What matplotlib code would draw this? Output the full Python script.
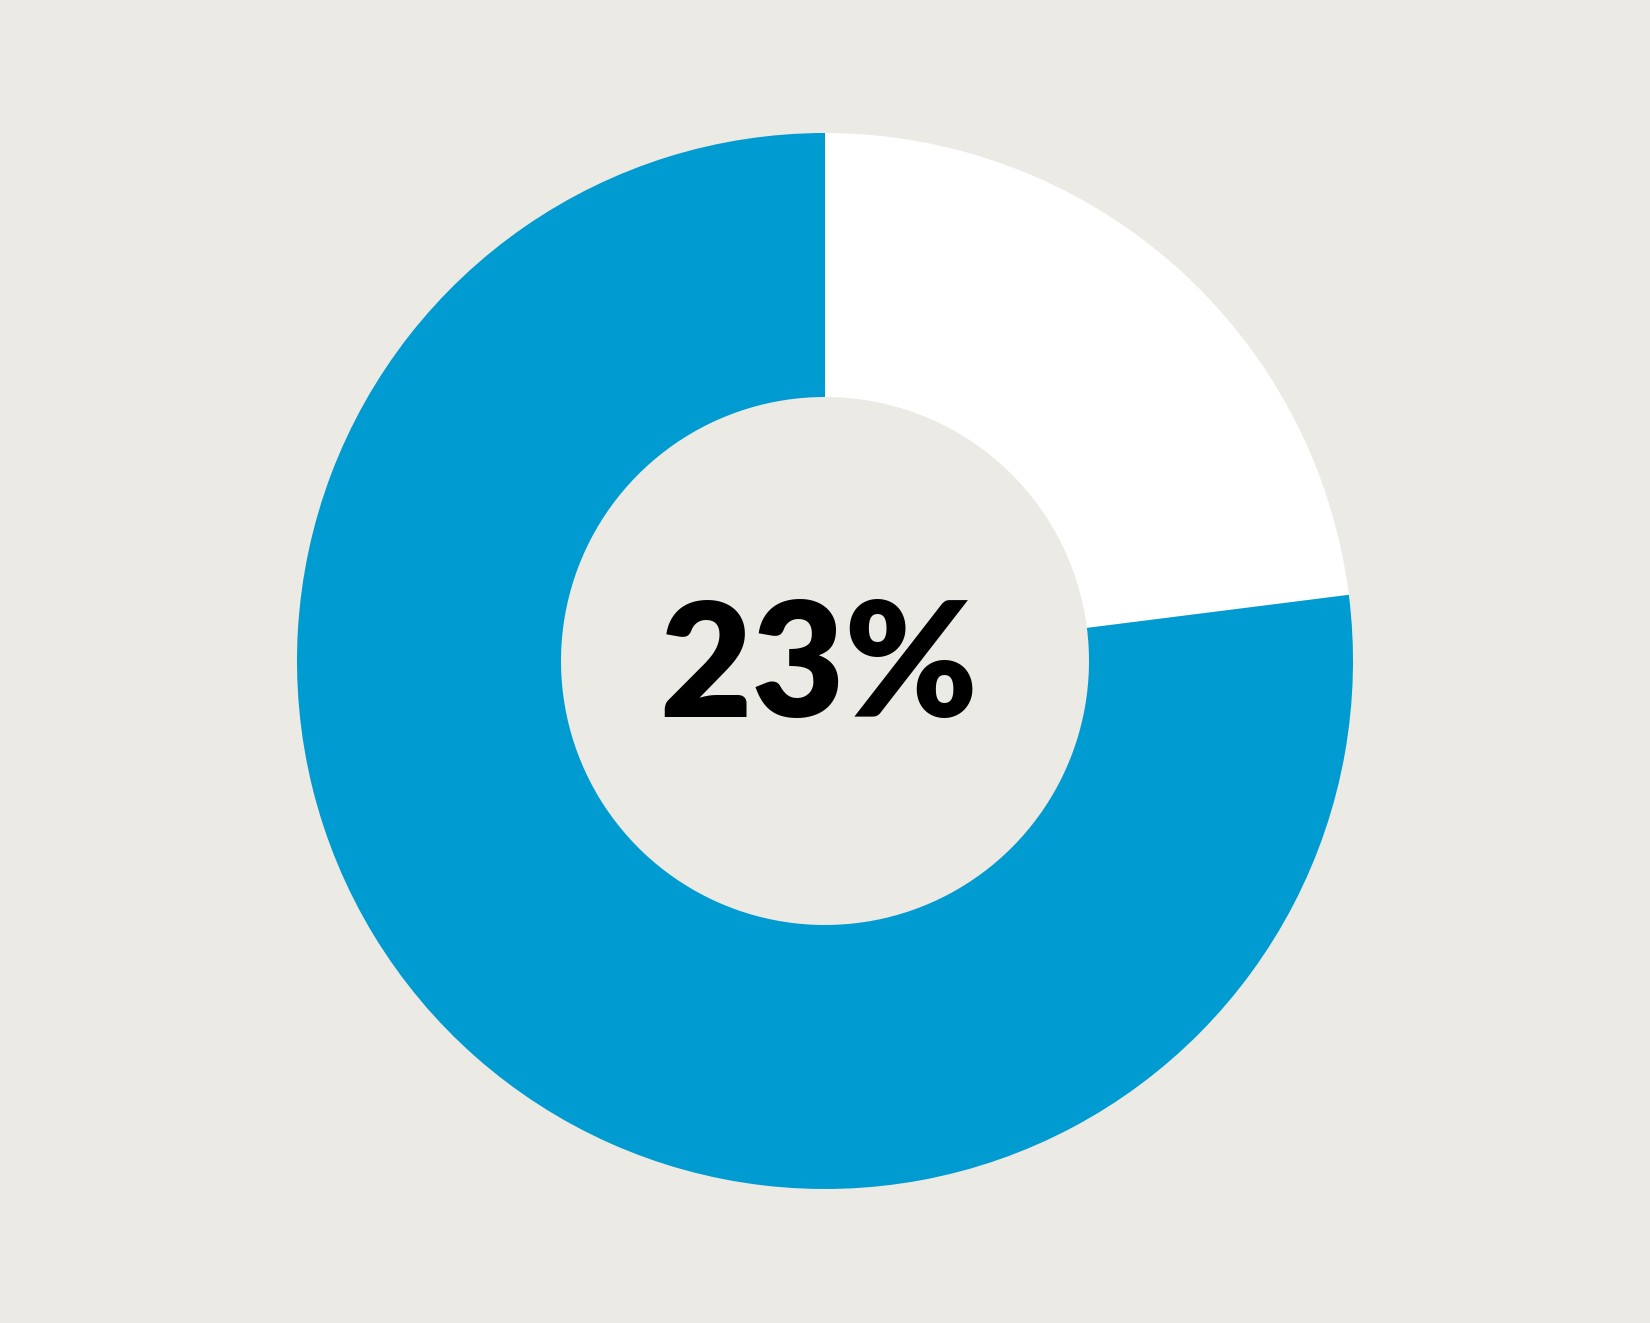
import matplotlib.pyplot as plt

# data
labels = ['share', 'rest']
values = [23, 77]
center_label = '23%'

bg = '#ebeae5'
colors = ['#ffffff', '#009bd0']

W, H = 1650, 1323
fig = plt.figure(figsize=(W / 100, H / 100), dpi=100, facecolor=bg)
ax = fig.add_axes([0, 0, 1, 1])
ax.set_facecolor(bg)

cx, cy = 825, H - 661
r_out, r_in = 528, 264

ax.pie(values, colors=colors, startangle=90, counterclock=False,
       center=(cx, cy), radius=r_out, frame=True,
       wedgeprops=dict(width=r_out - r_in, linewidth=0))

ax.text(cx - 6, cy - 10, center_label, ha='center', va='center',
        fontsize=115, fontweight='heavy', family='Lato', color='black')

ax.set_xlim(0, W)
ax.set_ylim(0, H)
ax.set_aspect('equal')
ax.axis('off')

fig.savefig('out.png', dpi=100, facecolor=bg)
